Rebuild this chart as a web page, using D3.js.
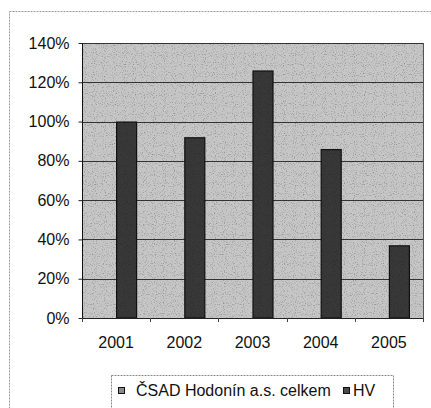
<!DOCTYPE html>
<html><head><meta charset="utf-8">
<script src="https://cdn.jsdelivr.net/npm/d3@7"></script>
<style>
html,body{margin:0;padding:0;background:#fff;}
svg{display:block;}
text{font-family:"Liberation Sans",Arial,sans-serif;fill:#111;}
</style></head>
<body>
<svg id="c" width="431" height="408"></svg>
<script>
const categories = ["2001","2002","2003","2004","2005"];
const seriesNames = ["ČSAD Hodonín a.s. celkem","HV"];
const celkemValues = [null,null,null,null,null];
const hvValues = [1.00,0.92,1.26,0.86,0.37];
const yTicks = [0,0.2,0.4,0.6,0.8,1.0,1.2,1.4];

const FS = 16;
const svg = d3.select("#c");
const defs = svg.append("defs");
const f = defs.append("filter").attr("id","noise").attr("x",0).attr("y",0).attr("width","100%").attr("height","100%");
f.append("feTurbulence").attr("type","fractalNoise").attr("baseFrequency",0.9).attr("numOctaves",1).attr("seed",3).attr("result","n");
f.append("feColorMatrix").attr("in","n").attr("type","matrix")
 .attr("values","0 0 0 0 0  0 0 0 0 0  0 0 0 0 0  0 0 0 -1.6 0.75").attr("result","a");
f.append("feComposite").attr("in","a").attr("in2","SourceGraphic").attr("operator","in");

const L=82, R=423, T=43, B=318;
const x0 = d3.scaleBand().domain(categories).range([L,R]).padding(0);
const x1 = d3.scaleBand().domain(seriesNames).range([0,x0.bandwidth()]).paddingInner(0).paddingOuter(0.624);
const y = d3.scaleLinear().domain([0,1.4]).range([B,T]);

svg.append("rect").attr("x",9.5).attr("y",11.5).attr("width",440).attr("height",420)
  .attr("fill","none").attr("stroke","#9a9a9a").attr("stroke-width",1).attr("stroke-dasharray","2,1");

svg.append("rect").attr("x",L).attr("y",T).attr("width",R-L).attr("height",B-T).attr("fill","#c6c6c6");
svg.append("rect").attr("x",L).attr("y",T).attr("width",R-L).attr("height",B-T).attr("fill","#8a8a8a").attr("filter","url(#noise)").attr("opacity",0.6);

svg.append("g").selectAll("line").data(yTicks.filter(d=>d>0)).join("line")
  .attr("x1",L).attr("x2",R).attr("y1",d=>Math.round(y(d))+0.5).attr("y2",d=>Math.round(y(d))+0.5)
  .attr("stroke","#333").attr("stroke-width",1);
svg.append("line").attr("x1",R+0.5).attr("x2",R+0.5).attr("y1",T).attr("y2",B).attr("stroke","#555");

const data = categories.map((c,i)=>({c, vals:[{s:seriesNames[0],v:celkemValues[i]},{s:seriesNames[1],v:hvValues[i]}]}));
const g = svg.append("g").selectAll("g").data(data).join("g").attr("transform",d=>`translate(${x0(d.c)},0)`);
g.selectAll("rect.bar").data(d=>d.vals.filter(v=>v.v!=null)).join("rect").attr("class","bar")
  .attr("x",d=>x1(d.s)+0.5).attr("y",d=>y(d.v)+0.5).attr("width",x1.bandwidth()-1).attr("height",d=>B-y(d.v)-0.5)
  .attr("fill",d=>d.s===seriesNames[1]?"#383838":"#888").attr("stroke","#111").attr("stroke-width",1.2);
g.selectAll("rect.tex").data(d=>d.vals.filter(v=>v.v!=null)).join("rect").attr("class","tex")
  .attr("x",d=>x1(d.s)+1.5).attr("y",d=>y(d.v)+1.5).attr("width",x1.bandwidth()-3).attr("height",d=>B-y(d.v)-2)
  .attr("fill","#000").attr("filter","url(#noise)").attr("opacity",0.5);

const yAxis = d3.axisLeft(y).tickValues(yTicks).tickFormat(d3.format(".0%")).tickSize(4).tickPadding(9);
const ya = svg.append("g").attr("transform",`translate(${L+0.5},0)`).call(yAxis);
ya.select(".domain").attr("stroke","#111").attr("d",`M0,${T}V${B}`);
ya.selectAll(".tick line").attr("stroke","#222");
ya.selectAll("text").attr("font-size",FS).attr("fill","#111").attr("font-family","Liberation Sans, Arial, sans-serif");

const xAxis = d3.axisBottom(x0).tickSize(0).tickPadding(18);
const xa = svg.append("g").attr("transform",`translate(0,${B+0.5})`).call(xAxis);
xa.select(".domain").attr("stroke","#222").attr("d",`M${L},0H${R}`);
xa.selectAll("text").attr("font-size",FS).attr("fill","#111").attr("font-family","Liberation Sans, Arial, sans-serif");
svg.append("g").selectAll("line").data(d3.range(categories.length+1)).join("line")
  .attr("x1",i=>Math.round(L+i*x0.step())+0.5).attr("x2",i=>Math.round(L+i*x0.step())+0.5)
  .attr("y1",B).attr("y2",B+4).attr("stroke","#444");

const lg = svg.append("g");
lg.append("rect").attr("x",111.5).attr("y",375.5).attr("width",282).attr("height",40)
  .attr("fill","#fff").attr("stroke","#8a8a8a").attr("stroke-dasharray","2,1");
const items = [{name:seriesNames[0],x:118,tx:136,fill:"#8c8c8c"},{name:seriesNames[1],x:343,tx:353,fill:"#4a4a4a"}];
items.forEach(it=>{
  lg.append("rect").attr("x",it.x+0.5).attr("y",387.5).attr("width",6).attr("height",6)
    .attr("fill",it.fill).attr("stroke","#111").attr("stroke-width",1);
  lg.append("text").attr("x",it.tx).attr("y",396).attr("font-size",FS).text(it.name);
});
</script>
</body></html>
